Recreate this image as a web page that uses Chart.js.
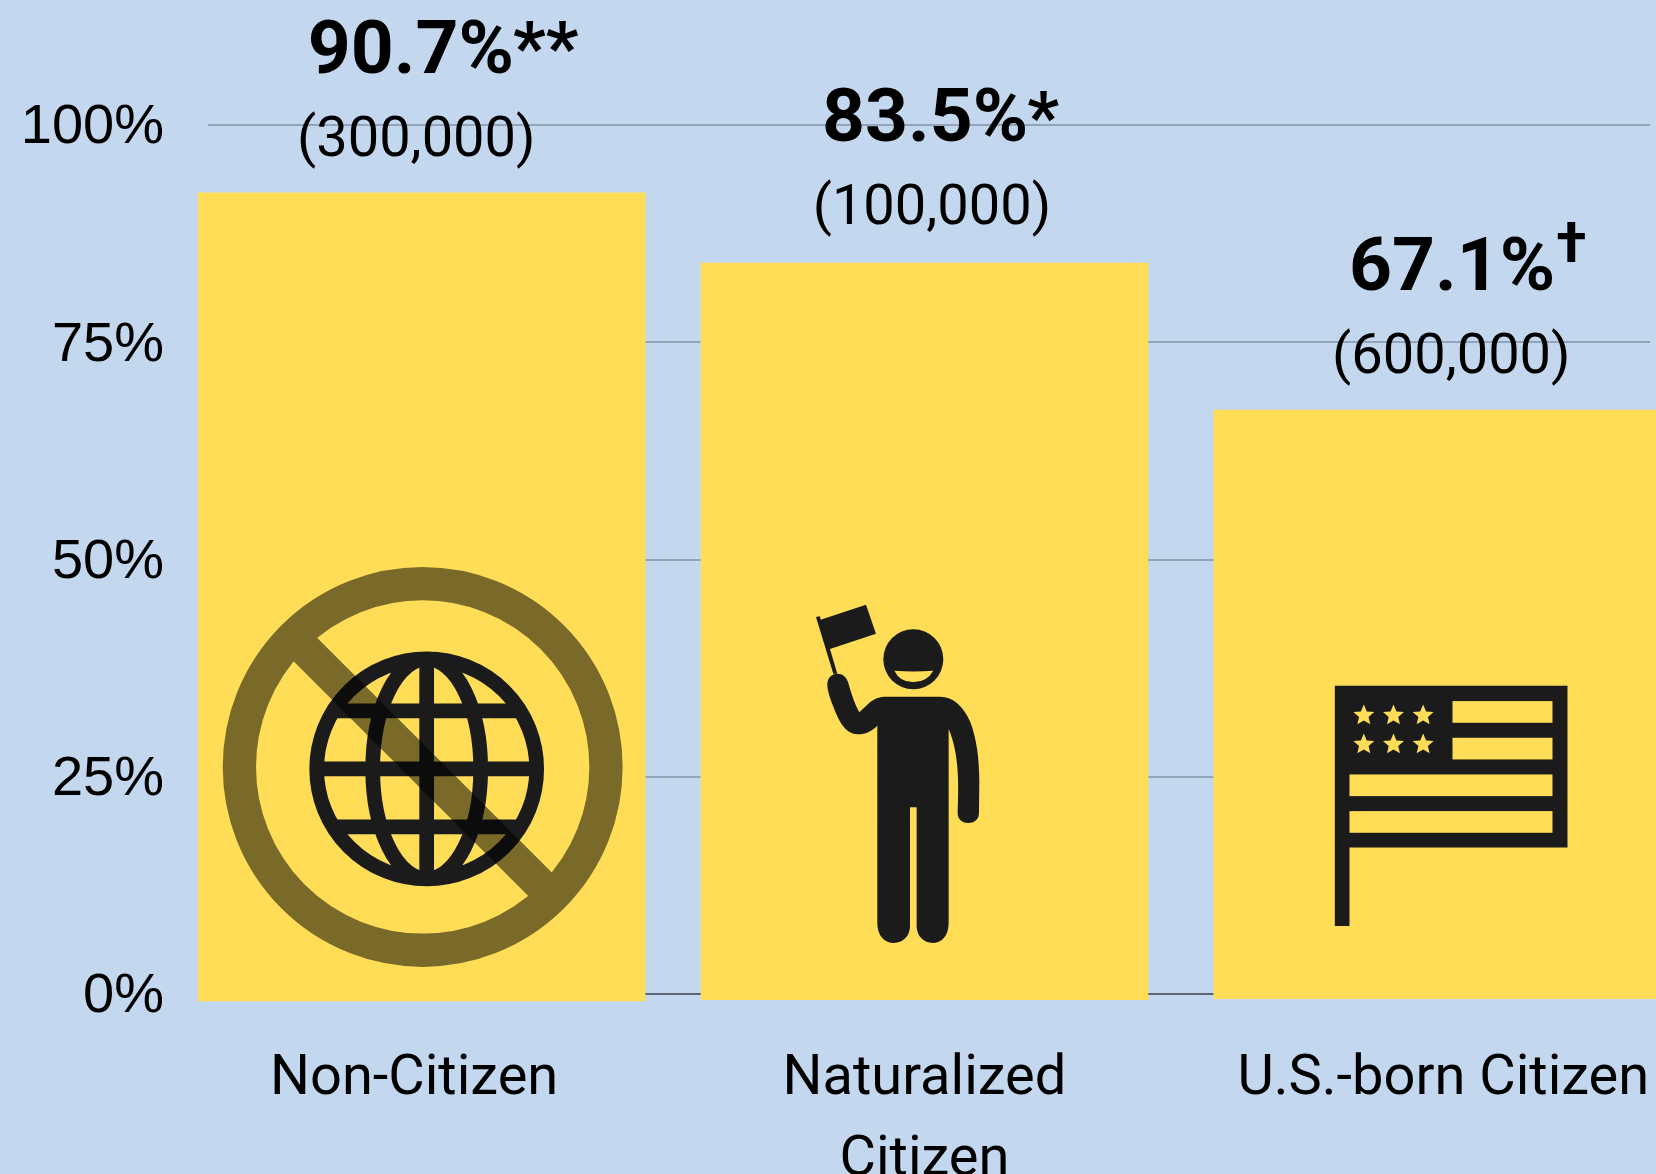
<!DOCTYPE html>
<html><head><meta charset="utf-8">
<style>html,body{margin:0;padding:0;background:#C3D7EE;overflow:hidden}canvas{display:block}</style>
<script src="https://cdn.jsdelivr.net/npm/chart.js@4"></script>
</head><body><canvas id="c" width="1656" height="1174"></canvas>
<script>
// Data
const categories = ['Non-Citizen', ['Naturalized', 'Citizen'], 'U.S.-born Citizen'];
const barPositions = [0, 1, 2.02];
const labelPositions = [-0.015, 1, 2.032];
const barTops = [92.2, 84.1, 67.2];
const barBottoms = [-0.8, -0.65, -0.55];
const valueLabels = ['90.7%', '83.5%', '67.1%'];
const valueMarks = ['**', '*', '†'];
const countLabels = ['(300,000)', '(100,000)', '(600,000)'];
const yTicks = [0, 25, 50, 75, 100];

const YELLOW = '#FFDD57', INK = '#1B1B1B', BG = '#C3D7EE';
const BOLD_FONT = '700 75px Roboto', COUNT_FONT = '400 56px Roboto';
const boldLeftShift = [-114, -102.5, -88.3], countShift = [-5.4, 7.5, 14];
const boldRise = [119.5, 122, 120], countRise = [36.3, 38.7, 37];
const markFonts = ['700 72px Roboto', '700 70px Roboto', '700 56px Roboto'];
const markRise = [0, 0, 28];
const markGap = [-1, -1, 1];

function globeIcon(ctx) {
  ctx.strokeStyle = INK; ctx.lineWidth = 14.7;
  ctx.beginPath();
  ctx.arc(5, -232, 110, 0, Math.PI * 2);
  ctx.moveTo(59, -232); ctx.ellipse(5, -232, 54, 110, 0, 0, Math.PI * 2);
  ctx.moveTo(5, -342); ctx.lineTo(5, -122);
  [-58, 0, 58].forEach(d => { const h = Math.sqrt(110 * 110 - d * d); ctx.moveTo(5 - h, -232 + d); ctx.lineTo(5 + h, -232 + d); });
  ctx.stroke();
  ctx.strokeStyle = 'rgba(0,0,0,0.52)'; ctx.lineWidth = 33.3;
  ctx.beginPath();
  ctx.arc(1, -234, 183.3, 0, Math.PI * 2);
  const k = 183.3 * Math.SQRT1_2;
  ctx.moveTo(1 - k, -234 - k); ctx.lineTo(1 + k, -234 + k);
  ctx.stroke();
}
function personIcon(ctx) {
  ctx.save(); ctx.translate(780 - 924.5, 590 - 1000); ctx.scale(1 / 3, 1 / 3);
  ctx.fillStyle = INK;
  ctx.fill(new Path2D('M108 82 L120 80 L122 90 L258 45 L288 132 L150 178 L172 252 L160 252 Z'));
  ctx.beginPath(); ctx.arc(400, 209, 90, 0, Math.PI * 2); ctx.fill();
  ctx.fill(new Path2D('M142 285 C142 265 155 252 172 252 C188 252 200 262 205 280 C215 315 225 345 238 368 L270 338 C285 326 300 321 320 321 L480 321 C520 321 550 350 570 395 C590 445 598 510 598 580 L597 670 C597 690 582 700 565 700 C548 700 533 690 533 670 C537 580 537 490 506 418 L506 1000 C506 1040 484 1060 458 1060 C432 1060 410 1040 410 1010 L410 653 L390 653 L390 1010 C390 1040 368 1060 342 1060 C315 1060 292 1040 292 1000 L292 408 C275 425 255 434 235 434 C205 434 185 410 170 375 C160 350 142 310 142 285 Z'));
  ctx.fillStyle = YELLOW;
  ctx.fill(new Path2D('M343 243 Q400 248 460 243 Q440 278 400 277 Q360 278 343 243 Z'));
  ctx.restore();
}
function flagIcon(ctx) {
  ctx.save(); ctx.translate(1310 - 1437.5, 670 - 999); ctx.scale(1 / 3, 1 / 3);
  ctx.fillStyle = INK;
  ctx.fill(new Path2D('M75 48 L773 48 L773 533 L119 533 L119 769 L75 769 Z'));
  ctx.fillStyle = YELLOW;
  [[428, 94, 300, 65], [428, 204, 300, 65], [119, 314, 609, 65], [119, 424, 609, 65]].forEach(r => ctx.fillRect(...r));
  [137, 224].forEach(y => [162, 251, 340].forEach(x => {
    ctx.beginPath();
    for (let i = 0; i < 10; i++) {
      const rad = i % 2 ? 15 : 33, a = -Math.PI / 2 + i * Math.PI / 5;
      ctx.lineTo(x + rad * Math.cos(a), y + rad * Math.sin(a));
    }
    ctx.closePath(); ctx.fill();
  }));
  ctx.restore();
}
const icons = [globeIcon, personIcon, flagIcon];

const annotate = {
  id: 'annotate',
  beforeDraw(chart) {
    const { ctx, width, height } = chart;
    ctx.save(); ctx.fillStyle = BG; ctx.fillRect(0, 0, width, height); ctx.restore();
    chart.scales.y.getLabelItems().forEach(item => { item.textOffset = 3; });
  },
  afterDatasetsDraw(chart) {
    const { ctx } = chart;
    const y = chart.scales.y;
    chart.getDatasetMeta(0).data.forEach((bar, i) => {
      const top = y.getPixelForValue(barTops[i]);
      const bottom = y.getPixelForValue(barBottoms[i]);
      ctx.save();
      ctx.translate(bar.x, bottom);
      icons[i](ctx);
      ctx.restore();
      ctx.save();
      ctx.fillStyle = '#000'; ctx.textBaseline = 'alphabetic';
      ctx.font = BOLD_FONT; ctx.textAlign = 'left';
      const left = bar.x + boldLeftShift[i];
      const baseline = top - boldRise[i];
      ctx.fillText(valueLabels[i], left, baseline);
      const w = ctx.measureText(valueLabels[i]).width;
      ctx.font = markFonts[i];
      ctx.fillText(valueMarks[i], left + w + markGap[i], baseline - markRise[i]);
      ctx.font = COUNT_FONT; ctx.textAlign = 'center';
      ctx.fillText(countLabels[i], bar.x + countShift[i], top - countRise[i]);
      ctx.restore();
    });
  }
};

new Chart(document.getElementById('c'), {
  type: 'bar',
  data: {
    datasets: [{
      data: barPositions.map((x, i) => ({ x, y: [barBottoms[i], barTops[i]] })),
      backgroundColor: YELLOW, borderWidth: 0, barThickness: 447, clip: false
    }]
  },
  options: {
    responsive: false, animation: false, devicePixelRatio: 1,
    layout: { padding: { top: 125, right: 6, left: 0, bottom: 0 } },
    plugins: { legend: { display: false }, tooltip: { enabled: false }, title: { display: false } },
    scales: {
      x: {
        type: 'linear', min: -0.425, max: 2.443, offset: false,
        afterBuildTicks(s) { s.ticks = labelPositions.map(value => ({ value })); },
        afterFit(s) { s.height = 180; s.paddingLeft = 0; s.paddingRight = 0; },
        grid: { display: false, offset: false }, border: { display: false },
        ticks: {
          autoSkip: false, maxRotation: 0, minRotation: 0, padding: 38, color: '#000',
          font: { family: 'Roboto', size: 56, lineHeight: 1.44 },
          callback: (v, i) => categories[i]
        }
      },
      y: {
        min: 0, max: 100,
        afterBuildTicks(s) { s.ticks = yTicks.map(value => ({ value })); },
        afterFit(s) { s.width = 208; },
        border: { display: false },
        grid: { drawTicks: false, lineWidth: 2, color: c => c.tick && c.tick.value === 0 ? '#5B6472' : '#93A3B9' },
        ticks: {
          padding: 44, color: '#000',
          font: { family: '"Liberation Sans"', size: 56 },
          callback: v => v + '%'
        }
      }
    }
  },
  plugins: [annotate]
});
</script></body></html>
